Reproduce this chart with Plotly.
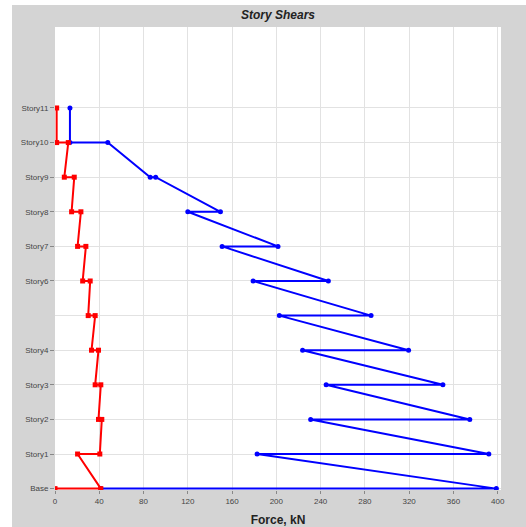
import plotly.graph_objects as go

# Story levels from base to roof
levels = ["Base", "Story1", "Story2", "Story3", "Story4", "Story5",
          "Story6", "Story7", "Story8", "Story9", "Story10", "Story11"]
labelled_levels = ["Base", "Story1", "Story2", "Story3", "Story4",
                   "Story6", "Story7", "Story8", "Story9", "Story10", "Story11"]

# Shear path (top -> bottom), kN
x_dir_story = ["Story11", "Story10", "Story10", "Story9", "Story9", "Story8", "Story8",
               "Story7", "Story7", "Story6", "Story6", "Story5", "Story5", "Story4",
               "Story4", "Story3", "Story3", "Story2", "Story2", "Story1", "Story1",
               "Base", "Base"]
x_dir_shear = [13.5, 13.5, 47.7, 86, 91, 149.5, 120, 201.5, 151, 247, 179, 285.6,
               202.7, 319.5, 223.7, 350.5, 245, 374.8, 231, 392, 182.6, 398.8, 41.4]

y_dir_story = ["Story11", "Story10", "Story10", "Story9", "Story9", "Story8", "Story8",
               "Story7", "Story7", "Story6", "Story6", "Story5", "Story5", "Story4",
               "Story4", "Story3", "Story3", "Story2", "Story2", "Story1", "Story1",
               "Base", "Base"]
y_dir_shear = [1.5, 1.5, 12.0, 8.4, 17.4, 15.0, 23.4, 20.4, 27.9, 25.0, 31.8, 30.0,
               36.3, 33.0, 39.3, 36.3, 41.4, 39.3, 42.3, 40.5, 20.4, 41.4, 0.0]

force_ticks = [0, 40, 80, 120, 160, 200, 240, 280, 320, 360, 400]

def level_pos(names):
    return [levels.index(n) for n in names]

fig = go.Figure()
fig.add_trace(go.Scatter(
    x=x_dir_shear, y=level_pos(x_dir_story), mode="lines+markers",
    line=dict(color="#0000ff", width=2),
    marker=dict(color="#0000ff", size=5, symbol="circle"),
    showlegend=False))
fig.add_trace(go.Scatter(
    x=y_dir_shear, y=level_pos(y_dir_story), mode="lines+markers",
    line=dict(color="#ff0000", width=2),
    marker=dict(color="#ff0000", size=5, symbol="square"),
    showlegend=False))

L, R, T, B = 55, 25, 27, 37
W, H = 526, 527
pw, ph = W - L - R, H - T - B

fig.update_layout(
    width=W, height=H,
    margin=dict(l=L, r=R, t=T, b=B, pad=0),
    paper_bgcolor="#d4d4d4", plot_bgcolor="white",
    font=dict(family="Liberation Sans, Arial, sans-serif", color="#333333", size=8),
    title=dict(text="<b><i>Story Shears</i></b>", x=(L + pw / 2) / W,
               xanchor="center", y=1 - 15 / H, yanchor="middle",
               font=dict(size=12, color="#222222")),
    xaxis=dict(range=[0, 403], tickvals=force_ticks, ticks="outside", ticklen=3,
               tickcolor="#888888", showgrid=True, gridcolor="#e2e2e2", gridwidth=1,
               zeroline=False, showline=False, automargin=False,
               tickfont=dict(size=8, color="#444444"),
               title=dict(text="<b>Force, kN</b>",
                          font=dict(size=12, color="#222222"))),
    yaxis=dict(range=[-0.04, 13.34], tickvals=level_pos(labelled_levels),
               ticktext=labelled_levels, ticks="outside", ticklen=4,
               tickcolor="#888888", showgrid=True, gridcolor="#e2e2e2", gridwidth=1,
               zeroline=False, showline=False, automargin=False,
               tickfont=dict(size=8, color="#444444"),
               minor=dict(tickvals=level_pos(["Story5"]), showgrid=True,
                          gridcolor="#e2e2e2", ticks="")),
    # white page edge to the left of and above the grey panel
    shapes=[
        dict(type="rect", xref="paper", yref="paper", layer="below",
             x0=-L / pw, x1=(12 - L) / pw, y0=-B / ph, y1=(H - B) / ph,
             line=dict(width=0), fillcolor="white"),
        dict(type="rect", xref="paper", yref="paper", layer="below",
             x0=-L / pw, x1=(W - L) / pw, y0=(H - B - 5) / ph, y1=(H - B) / ph,
             line=dict(width=0), fillcolor="white"),
    ],
)

fig.write_html("out.html")
